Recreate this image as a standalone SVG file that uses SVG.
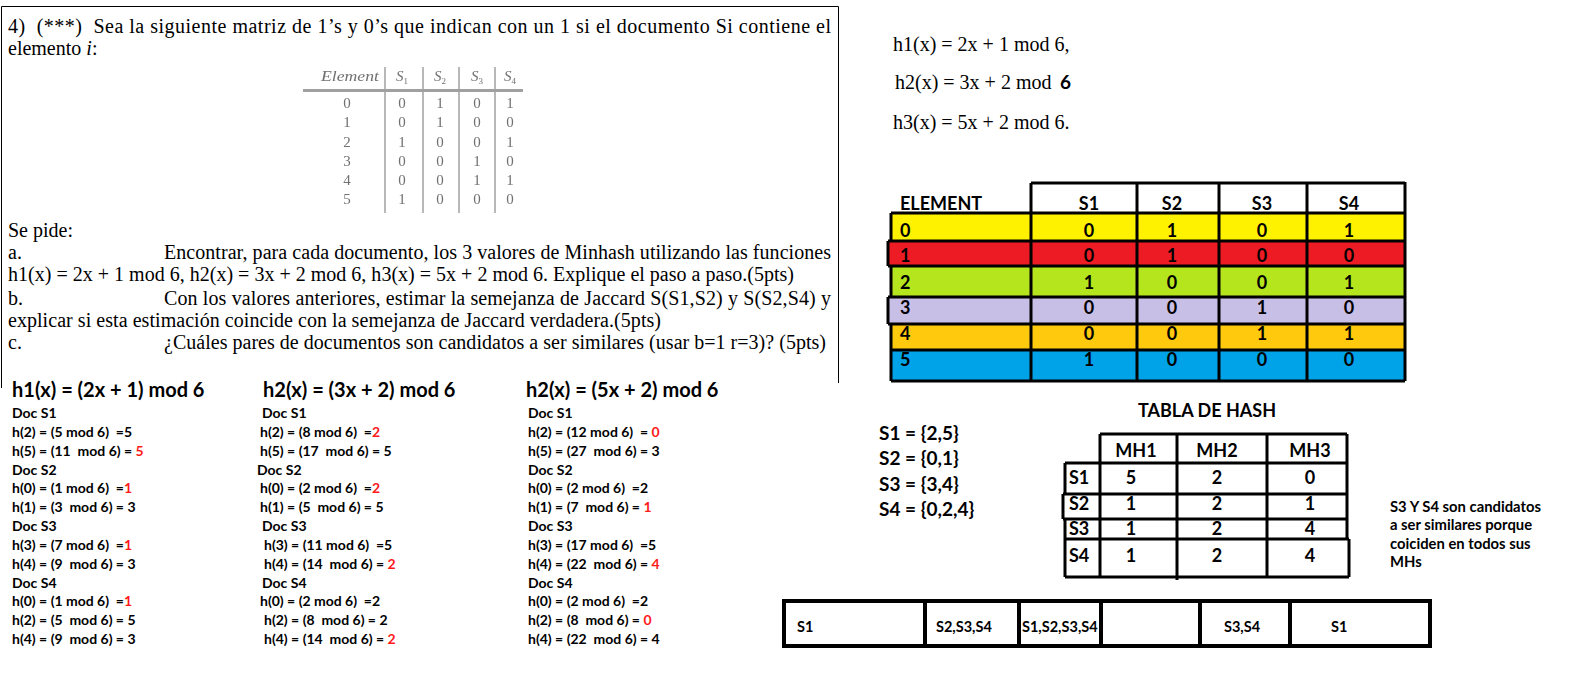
<svg xmlns="http://www.w3.org/2000/svg" width="1592" height="692" viewBox="0 0 1592 692">
<style>
.s{font-family:"Liberation Serif","Times New Roman",serif;font-size:20px;fill:#000;white-space:pre}
.c{font-family:Lato,"Open Sans",sans-serif;font-weight:700;fill:#000;white-space:pre}
.f{font-size:14px}
.h{font-size:20px}
.t{font-size:18px}
.r{fill:#ff1a1a}
.g{font-family:"Liberation Serif",serif;font-size:15px;fill:#707070;text-anchor:middle}
.k{stroke:#000;stroke-width:3;fill:none}
.mid{text-anchor:middle}
</style>
<defs>
<filter id="blur" x="-5%" y="-5%" width="110%" height="110%"><feGaussianBlur stdDeviation="0.55"/></filter>
</defs>
<rect width="1592" height="692" fill="#fff"/>

<g id="question">
<polyline points="1.5,388 1.5,6.5 838.5,6.5 838.5,383" fill="none" stroke="#000" stroke-width="1"/>
<text class="s" x="8" y="33" textLength="823" lengthAdjust="spacing">4)  (***)  Sea la siguiente matriz de 1’s y 0’s que indican con un 1 si el documento Si contiene el</text>
<text class="s" x="8" y="54.5">elemento <tspan font-style="italic">i</tspan>:</text>
<text class="s" x="8" y="237">Se pide:</text>
<text class="s" x="8" y="259">a.</text>
<text class="s" x="164" y="259" textLength="667" lengthAdjust="spacing">Encontrar, para cada documento, los 3 valores de Minhash utilizando las funciones</text>
<text class="s" x="8" y="281" textLength="786" lengthAdjust="spacing">h1(x) = 2x + 1 mod 6, h2(x) = 3x + 2 mod 6, h3(x) = 5x + 2 mod 6. Explique el paso a paso.(5pts)</text>
<text class="s" x="8" y="305">b.</text>
<text class="s" x="164" y="305" textLength="667" lengthAdjust="spacing">Con los valores anteriores, estimar la semejanza de Jaccard S(S1,S2) y S(S2,S4) y</text>
<text class="s" x="8" y="327" textLength="653" lengthAdjust="spacing">explicar si esta estimación coincide con la semejanza de Jaccard verdadera.(5pts)</text>
<text class="s" x="8" y="349">c.</text>
<text class="s" x="164" y="349" textLength="662" lengthAdjust="spacing">¿Cuáles pares de documentos son candidatos a ser similares (usar b=1 r=3)? (5pts)</text>
</g>

<g id="small-table" filter="url(#blur)">
<g stroke="#9a9a9a" stroke-width="1.4">
<line x1="385" y1="67" x2="385" y2="213"/>
<line x1="423" y1="67" x2="423" y2="213"/>
<line x1="459" y1="67" x2="459" y2="213"/>
<line x1="495" y1="67" x2="495" y2="213"/>
</g>
<line x1="303" y1="90.5" x2="523" y2="90.5" stroke="#a0a0a0" stroke-width="3"/>
<text class="g" x="350" y="81" font-style="italic" textLength="58" lengthAdjust="spacingAndGlyphs">Element</text>
<text class="g" x="402" y="81"><tspan font-style="italic">S</tspan><tspan font-size="9" dy="3">1</tspan></text>
<text class="g" x="440" y="81"><tspan font-style="italic">S</tspan><tspan font-size="9" dy="3">2</tspan></text>
<text class="g" x="477" y="81"><tspan font-style="italic">S</tspan><tspan font-size="9" dy="3">3</tspan></text>
<text class="g" x="510" y="81"><tspan font-style="italic">S</tspan><tspan font-size="9" dy="3">4</tspan></text>
<text class="g" x="347" y="108">0</text><text class="g" x="402" y="108">0</text><text class="g" x="440" y="108">1</text><text class="g" x="477" y="108">0</text><text class="g" x="510" y="108">1</text>
<text class="g" x="347" y="127">1</text><text class="g" x="402" y="127">0</text><text class="g" x="440" y="127">1</text><text class="g" x="477" y="127">0</text><text class="g" x="510" y="127">0</text>
<text class="g" x="347" y="147">2</text><text class="g" x="402" y="147">1</text><text class="g" x="440" y="147">0</text><text class="g" x="477" y="147">0</text><text class="g" x="510" y="147">1</text>
<text class="g" x="347" y="166">3</text><text class="g" x="402" y="166">0</text><text class="g" x="440" y="166">0</text><text class="g" x="477" y="166">1</text><text class="g" x="510" y="166">0</text>
<text class="g" x="347" y="185">4</text><text class="g" x="402" y="185">0</text><text class="g" x="440" y="185">0</text><text class="g" x="477" y="185">1</text><text class="g" x="510" y="185">1</text>
<text class="g" x="347" y="204">5</text><text class="g" x="402" y="204">1</text><text class="g" x="440" y="204">0</text><text class="g" x="477" y="204">0</text><text class="g" x="510" y="204">0</text>
</g>

<g id="h1-steps" class="c f">
<text class="c h" x="12" y="397">h1(x) = (2x + 1) mod 6</text>
<text class="c f" x="12" y="418">Doc S1</text>
<text class="c f" x="12" y="436.8">h(2) = (5 mod 6)  =5</text>
<text class="c f" x="12" y="455.7">h(5) = (11  mod 6) = <tspan class="r">5</tspan></text>
<text class="c f" x="12" y="474.5">Doc S2</text>
<text class="c f" x="12" y="493.3">h(0) = (1 mod 6)  =<tspan class="r">1</tspan></text>
<text class="c f" x="12" y="512.2">h(1) = (3  mod 6) = 3</text>
<text class="c f" x="12" y="531">Doc S3</text>
<text class="c f" x="12" y="549.8">h(3) = (7 mod 6)  =<tspan class="r">1</tspan></text>
<text class="c f" x="12" y="568.6">h(4) = (9  mod 6) = 3</text>
<text class="c f" x="12" y="587.5">Doc S4</text>
<text class="c f" x="12" y="606.3">h(0) = (1 mod 6)  =<tspan class="r">1</tspan></text>
<text class="c f" x="12" y="625.1">h(2) = (5  mod 6) = 5</text>
<text class="c f" x="12" y="644">h(4) = (9  mod 6) = 3</text>
</g>

<g id="h2-steps">
<text class="c h" x="263" y="397">h2(x) = (3x + 2) mod 6</text>
<text class="c f" x="262" y="418">Doc S1</text>
<text class="c f" x="260" y="436.8">h(2) = (8 mod 6)  =<tspan class="r">2</tspan></text>
<text class="c f" x="260" y="455.7">h(5) = (17  mod 6) = 5</text>
<text class="c f" x="257" y="474.5">Doc S2</text>
<text class="c f" x="260" y="493.3">h(0) = (2 mod 6)  =<tspan class="r">2</tspan></text>
<text class="c f" x="260" y="512.2">h(1) = (5  mod 6) = 5</text>
<text class="c f" x="262" y="531">Doc S3</text>
<text class="c f" x="264" y="549.8">h(3) = (11 mod 6)  =5</text>
<text class="c f" x="264" y="568.6">h(4) = (14  mod 6) = <tspan class="r">2</tspan></text>
<text class="c f" x="262" y="587.5">Doc S4</text>
<text class="c f" x="260" y="606.3">h(0) = (2 mod 6)  =2</text>
<text class="c f" x="264" y="625.1">h(2) = (8  mod 6) = 2</text>
<text class="c f" x="264" y="644">h(4) = (14  mod 6) = <tspan class="r">2</tspan></text>
</g>

<g id="h3-steps">
<text class="c h" x="526" y="397">h2(x) = (5x + 2) mod 6</text>
<text class="c f" x="528" y="418">Doc S1</text>
<text class="c f" x="528" y="436.8">h(2) = (12 mod 6)  = <tspan class="r">0</tspan></text>
<text class="c f" x="528" y="455.7">h(5) = (27  mod 6) = 3</text>
<text class="c f" x="528" y="474.5">Doc S2</text>
<text class="c f" x="528" y="493.3">h(0) = (2 mod 6)  =2</text>
<text class="c f" x="528" y="512.2">h(1) = (7  mod 6) = <tspan class="r">1</tspan></text>
<text class="c f" x="528" y="531">Doc S3</text>
<text class="c f" x="528" y="549.8">h(3) = (17 mod 6)  =5</text>
<text class="c f" x="528" y="568.6">h(4) = (22  mod 6) = <tspan class="r">4</tspan></text>
<text class="c f" x="528" y="587.5">Doc S4</text>
<text class="c f" x="528" y="606.3">h(0) = (2 mod 6)  =2</text>
<text class="c f" x="528" y="625.1">h(2) = (8  mod 6) = <tspan class="r">0</tspan></text>
<text class="c f" x="528" y="644">h(4) = (22  mod 6) = 4</text>
</g>

<g id="functions">
<text class="s" x="893" y="51">h1(x) = 2x + 1 mod 6,</text>
<text class="s" x="895" y="89">h2(x) = 3x + 2 mod </text>
<text class="c" x="1060" y="89" font-size="19">6</text>
<text class="s" x="893" y="129">h3(x) = 5x + 2 mod 6.</text>
</g>

<g id="element-table">
<rect x="891" y="213" width="514" height="28" fill="#fff200"/>
<rect x="888" y="241" width="517" height="25" fill="#ed1c24"/>
<rect x="891" y="266" width="514" height="31" fill="#b5e61d"/>
<rect x="888" y="297" width="517" height="27" fill="#c8bfe7"/>
<rect x="891" y="324" width="514" height="26" fill="#ffc90e"/>
<rect x="891" y="350" width="514" height="31" fill="#00a2e8"/>
<path class="k" d="M1031,183 H1405 M1031,183 V381 M1137,183 V381 M1219,183 V381 M1307,182 V381 M1405,182 V381
 M891,213 H1405 M888,241 H1405 M888,266 H1405 M888,297 H1405 M888,324 H1405 M891,350 H1405 M891,381 H1405
 M891,213 V241 M888,241 V266 M891,266 V297 M888,297 V324 M891,324 V381"/>
<text class="c t" x="900" y="210">ELEMENT</text>
<g class="mid">
<text class="c t mid" x="1089" y="210">S1</text><text class="c t mid" x="1172" y="210">S2</text><text class="c t mid" x="1262" y="210">S3</text><text class="c t mid" x="1349" y="210">S4</text>
<text class="c t" x="900" y="237" text-anchor="start">0</text><text class="c t mid" x="1089" y="237">0</text><text class="c t mid" x="1172" y="237">1</text><text class="c t mid" x="1262" y="237">0</text><text class="c t mid" x="1349" y="237">1</text>
<text class="c t" x="900" y="262" text-anchor="start">1</text><text class="c t mid" x="1089" y="262">0</text><text class="c t mid" x="1172" y="262">1</text><text class="c t mid" x="1262" y="262">0</text><text class="c t mid" x="1349" y="262">0</text>
<text class="c t" x="900" y="289" text-anchor="start">2</text><text class="c t mid" x="1089" y="289">1</text><text class="c t mid" x="1172" y="289">0</text><text class="c t mid" x="1262" y="289">0</text><text class="c t mid" x="1349" y="289">1</text>
<text class="c t" x="900" y="314" text-anchor="start">3</text><text class="c t mid" x="1089" y="314">0</text><text class="c t mid" x="1172" y="314">0</text><text class="c t mid" x="1262" y="314">1</text><text class="c t mid" x="1349" y="314">0</text>
<text class="c t" x="900" y="340" text-anchor="start">4</text><text class="c t mid" x="1089" y="340">0</text><text class="c t mid" x="1172" y="340">0</text><text class="c t mid" x="1262" y="340">1</text><text class="c t mid" x="1349" y="340">1</text>
<text class="c t" x="900" y="366" text-anchor="start">5</text><text class="c t mid" x="1089" y="366">1</text><text class="c t mid" x="1172" y="366">0</text><text class="c t mid" x="1262" y="366">0</text><text class="c t mid" x="1349" y="366">0</text>
</g>
</g>

<g id="sets">
<text class="c" font-size="19" x="879" y="440">S1 = {2,5}</text>
<text class="c" font-size="19" x="879" y="465">S2 = {0,1}</text>
<text class="c" font-size="19" x="879" y="491">S3 = {3,4}</text>
<text class="c" font-size="19" x="879" y="516">S4 = {0,2,4}</text>
</g>

<g id="hash-table">
<text class="c t mid" x="1207" y="417">TABLA DE HASH</text>
<path class="k" d="M1100,434 H1347 M1065,463 H1347 M1063,494 H1347 M1063,519 H1347 M1065,539 H1349 M1065,577 H1349
 M1100,434 V577 M1177,434 V580 M1267,434 V577 M1347,434 V539 M1349,539 V577
 M1065,463 V494 M1063,494 V519 M1065,519 V577"/>
<text class="c t mid" x="1136" y="457">MH1</text><text class="c t mid" x="1217" y="457">MH2</text><text class="c t mid" x="1310" y="457">MH3</text>
<text class="c t" x="1069" y="484">S1</text><text class="c t mid" x="1131" y="484">5</text><text class="c t mid" x="1217" y="484">2</text><text class="c t mid" x="1310" y="484">0</text>
<text class="c t" x="1069" y="510">S2</text><text class="c t mid" x="1131" y="510">1</text><text class="c t mid" x="1217" y="510">2</text><text class="c t mid" x="1310" y="510">1</text>
<text class="c t" x="1069" y="535">S3</text><text class="c t mid" x="1131" y="535">1</text><text class="c t mid" x="1217" y="535">2</text><text class="c t mid" x="1310" y="535">4</text>
<text class="c t" x="1069" y="562">S4</text><text class="c t mid" x="1131" y="562">1</text><text class="c t mid" x="1217" y="562">2</text><text class="c t mid" x="1310" y="562">4</text>
</g>

<g id="note">
<text class="c" font-size="14.8" x="1390" y="512">S3 Y S4 son candidatos</text>
<text class="c" font-size="14.8" x="1390" y="530">a ser similares porque</text>
<text class="c" font-size="14.8" x="1390" y="549">coiciden en todos sus</text>
<text class="c" font-size="14.8" x="1390" y="567">MHs</text>
</g>

<g id="buckets">
<path d="M784,601 H1430 V646 H784 Z M925,601 V646 M1019,601 V646 M1101,601 V646 M1200,601 V646 M1290,601 V646" fill="none" stroke="#000" stroke-width="4"/>
<text class="c" font-size="14.5" x="797" y="632">S1</text>
<text class="c" font-size="14.5" x="936" y="632">S2,S3,S4</text>
<text class="c" font-size="14.5" x="1022" y="632">S1,S2,S3,S4</text>
<text class="c" font-size="14.5" x="1224" y="632">S3,S4</text>
<text class="c" font-size="14.5" x="1331" y="632">S1</text>
</g>
</svg>
